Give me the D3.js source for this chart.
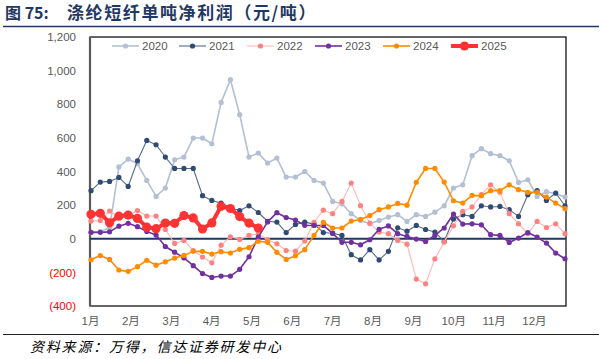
<!DOCTYPE html>
<html><head><meta charset="utf-8">
<script src="https://cdn.jsdelivr.net/npm/d3@7"></script>
<style>
body{margin:0;background:#fff;}
svg{display:block;}
</style></head><body>
<svg id="c" width="602" height="359"></svg>
<script>
// ---- data ----
const weeks = d3.range(1, 53);
const monthLabels = ["1月","2月","3月","4月","5月","6月","7月","8月","9月","10月","11月","12月"];
const yTicks = [-400, -200, 0, 200, 400, 600, 800, 1000, 1200];
const years = ["2020","2021","2022","2023","2024","2025"];
const s2020 = [37,43,65,427,474,446,347,252,302,470,486,599,599,565,811,946,738,486,510,450,480,367,367,400,347,331,222,208,149,109,89,109,129,143,103,143,133,158,196,302,321,494,536,506,494,464,335,351,252,280,268,248];
const s2021 = [286,337,341,365,311,464,585,559,486,418,418,418,256,228,212,183,168,196,156,104,99,37,85,99,87,37,33,20,-95,-126,-65,-126,-75,65,45,79,55,40,-16,117,143,133,196,189,192,173,133,262,287,228,272,196];
const s2022 = [105,108,165,130,137,168,135,135,55,-28,-10,-70,-109,-143,-38,12,-4,20,30,-6,-30,-70,-74,-13,98,170,149,222,331,197,93,40,30,-10,-32,-240,-268,-120,-20,77,163,189,262,321,276,149,89,30,103,67,89,30];
const s2023 = [38,38,41,75,92,72,43,22,-46,-80,-114,-160,-207,-230,-222,-222,-182,-107,10,100,155,126,111,80,79,79,32,-21,-21,-36,-6,56,76,30,14,-2,-16,20,64,147,87,89,83,24,20,-22,4,37,10,-26,-85,-119];
const s2024 = [-125,-100,-123,-186,-194,-166,-128,-157,-137,-115,-99,-75,-75,-91,-77,-85,-63,-53,-15,-21,-81,-123,-101,-65,20,98,64,64,105,115,138,173,189,210,200,336,418,418,337,226,212,258,256,286,286,321,292,276,276,248,212,179];
const s2025 = [145,151,95,134,141,121,69,60,93,92,138,124,58,94,193,180,132,93,64];

const seriesData = [s2020, s2021, s2022, s2023, s2024, s2025];
const styles = [
  {line:"#B3BFD2", dot:"#B3BFD2", w:1.6, r:2.6},
  {line:"#566B8C", dot:"#2F4A73", w:1.1, r:2.6},
  {line:"#FFB6B6", dot:"#FF8282", w:1.1, r:2.6},
  {line:"#7030A0", dot:"#7030A0", w:1.6, r:2.6},
  {line:"#FF8C00", dot:"#FF8C00", w:1.6, r:2.6},
  {line:"#FF3333", dot:"#FF3333", w:4, r:4.6}
];

const svg = d3.select("#c");
const L = 90, R = 565, T = 37, B = 306;
const x = d3.scalePoint().domain(weeks).range([L + 1, R]);
const y = d3.scaleLinear().domain([-400, 1200]).range([B, T]);
const xm = d3.scaleLinear().domain([0, 12]).range([L, L + (R - L) * 52 / 51]);

// title
svg.append("text").attr("x", 5).attr("y", 19)
  .attr("font-family", "'Noto Sans CJK SC','Liberation Sans',sans-serif")
  .attr("font-weight", "bold").attr("font-size", 16).attr("fill", "#1F3864")
  .text("图 75:");
svg.append("text").attr("x", 67).attr("y", 19)
  .attr("font-family", "'Noto Sans CJK SC',sans-serif")
  .attr("font-weight", "bold").attr("font-size", 17).attr("letter-spacing", 1.6).attr("fill", "#1F3864")
  .text("涤纶短纤单吨净利润（元/吨）");
svg.append("line").attr("x1", 3).attr("x2", 599).attr("y1", 26.5).attr("y2", 26.5)
  .attr("stroke", "#1F3864").attr("stroke-width", 1.5);

// plot frame
svg.append("rect").attr("x", L).attr("y", T).attr("width", R - L + 1).attr("height", B - T)
  .attr("fill", "none").attr("stroke", "#000").attr("stroke-width", 1.2);

// y axis labels
const yAxis = d3.axisLeft(y).tickValues(yTicks).tickSize(0).tickPadding(14)
  .tickFormat(d => d < 0 ? "(" + d3.format(",")(-d) + ")" : d3.format(",")(d));
const gy = svg.append("g").attr("transform", `translate(${L},0)`).call(yAxis);
gy.select(".domain").remove();
gy.selectAll("text").attr("font-family", "'Liberation Sans',Arial,sans-serif").attr("font-size", 11.5)
  .attr("fill", d => d < 0 ? "#FF0000" : "#595959");

// x axis labels
const xAxis = d3.axisBottom(xm).tickValues(d3.range(12)).tickSize(0).tickPadding(11)
  .tickFormat(i => monthLabels[i]);
const gx = svg.append("g").attr("transform", `translate(0,${B})`).call(xAxis);
gx.select(".domain").remove();
gx.selectAll("text").attr("font-family", "'Liberation Sans','Noto Sans CJK SC',sans-serif")
  .attr("font-size", 11.5).attr("fill", "#595959");

// left axis line
svg.append("line").attr("x1", L).attr("x2", L).attr("y1", T).attr("y2", B)
  .attr("stroke", "#595959").attr("stroke-width", 2.2);

// zero line
svg.append("line").attr("x1", L).attr("x2", R + 1).attr("y1", y(0)).attr("y2", y(0))
  .attr("stroke", "#1F3864").attr("stroke-width", 1.8);

// series
const line = d3.line().x((d, i) => x(weeks[i])).y(d => y(d));
seriesData.forEach((data, k) => {
  const st = styles[k];
  const g = svg.append("g");
  g.append("path").datum(data).attr("d", line).attr("fill", "none")
    .attr("stroke", st.line).attr("stroke-width", st.w).attr("stroke-linejoin", "round");
  g.selectAll("circle").data(data).join("circle")
    .attr("cx", (d, i) => x(weeks[i])).attr("cy", d => y(d)).attr("r", st.r).attr("fill", st.dot);
});

// legend
const legX = [112, 179, 247, 315, 383, 451];
const legY = 46;
years.forEach((yr, k) => {
  const st = styles[k];
  const lg = svg.append("g");
  lg.append("line").attr("x1", legX[k]).attr("x2", legX[k] + 27).attr("y1", legY).attr("y2", legY)
    .attr("stroke", st.line).attr("stroke-width", st.w);
  lg.append("circle").attr("cx", legX[k] + 13.5).attr("cy", legY).attr("r", st.r).attr("fill", st.dot);
  lg.append("text").attr("x", legX[k] + 30).attr("y", legY + 4)
    .attr("font-family", "'Liberation Sans',Arial,sans-serif").attr("font-size", 11.5).attr("fill", "#595959")
    .text(yr);
});

// bottom rule and source
svg.append("line").attr("x1", 3).attr("x2", 599).attr("y1", 334.5).attr("y2", 334.5)
  .attr("stroke", "#222").attr("stroke-width", 1.2);
svg.append("text").attr("x", 30).attr("y", 352)
  .attr("font-family", "'Noto Sans CJK SC',sans-serif").attr("font-style", "italic")
  .attr("font-size", 14).attr("letter-spacing", 1.8).attr("fill", "#000")
  .text("资料来源：万得，信达证券研发中心");
</script>
</body></html>
